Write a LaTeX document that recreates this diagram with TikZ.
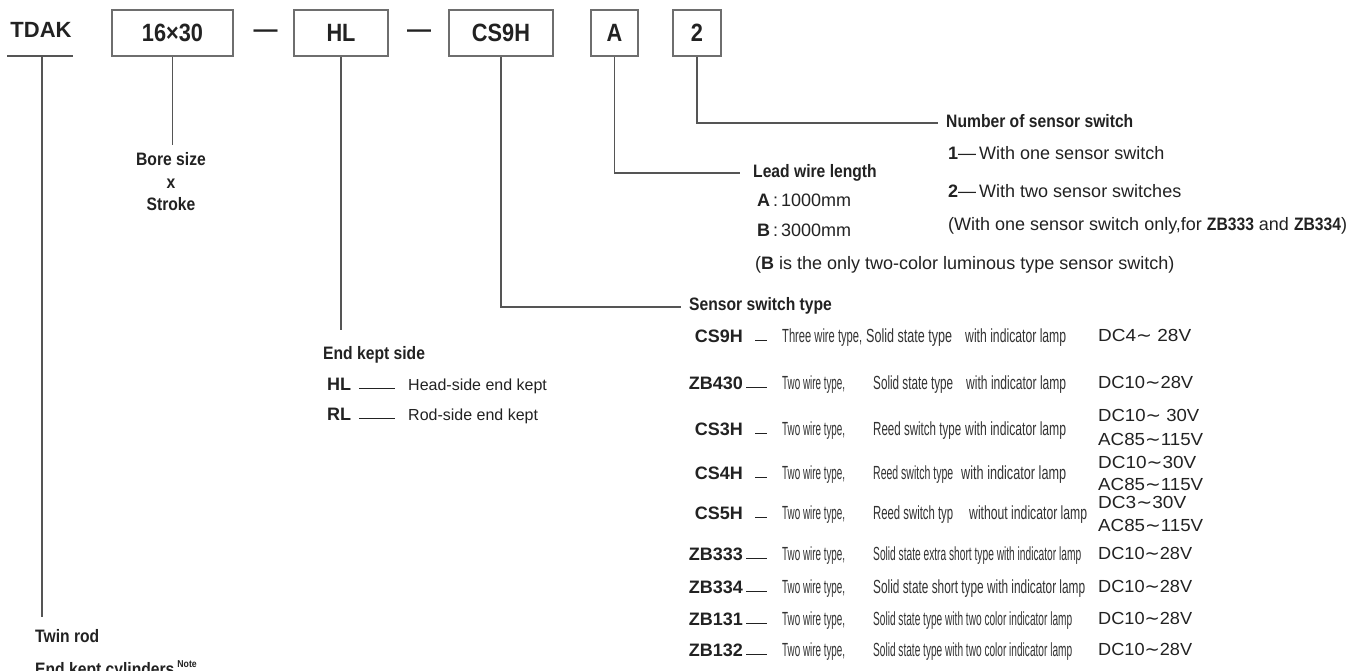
\documentclass[tikz,border=0pt]{standalone}
\usepackage{fontspec}
\usepackage{graphicx}
\setmainfont{Liberation Sans}
\newfontfamily\hd{Liberation Sans}[FakeStretch=0.87]
\newfontfamily\dv{DejaVu Sans}
\newcommand\fs[1]{\fontsize{#1}{#1}\selectfont}
\newcommand\fitw[2]{\resizebox{#1pt}{\height}{#2}}
\newcommand\wtil{{\dv ∼}}
\definecolor{txtcol}{HTML}{222222}
\definecolor{linecol}{HTML}{555555}
\definecolor{boxcol}{HTML}{6E6E6E}
\begin{document}
\begin{tikzpicture}[x=1pt,y=-1pt,
  txt/.style={text=txtcol, inner sep=0pt, anchor=mid west},
  hdr/.style={txt, font=\hd\bfseries\fs{18}},
  reg/.style={txt, font=\fs{18}},
  desc/.style={txt, text=black!80, font=\fs{19}},
  volt/.style={txt, font=\fs{17.5}},
  sname/.style={txt, anchor=mid east, font=\bfseries\fs{18}},
  code/.style={draw=boxcol, line width=1.5pt, inner sep=0pt, text=txtcol,
     font=\hd\bfseries\fs{25}, minimum height=46pt},
  conn/.style={draw=linecol, line width=1.4pt},
  dashln/.style={draw=txtcol, line width=1pt}]
\fill[white] (0,0) rectangle (1360,670);
\useasboundingbox (0,0) rectangle (1360,670);
\clip (0,0) rectangle (1360,670);

% ---- top code row
\node[txt, anchor=mid, font=\bfseries\fs{22}] (tdak) at (41,35) {TDAK};
\coordinate (ulL) at (7,56);
\coordinate (ulR) at (73,56);
\draw[conn] (ulL) -- (ulR);
\node[code, minimum width=121pt] (b1) at (172.5,33) {16×30};
\node[txt, anchor=mid, font=\bfseries\fs{24}] (dash1) at (265.5,35) {—};
\node[code, minimum width=94pt] (b2) at (341,33) {HL};
\node[txt, anchor=mid, font=\bfseries\fs{24}] (dash2) at (419,35) {—};
\node[code, minimum width=104pt] (b3) at (501,33) {CS9H};
\node[code, minimum width=47pt] (b4) at (614.5,33) {A};
\node[code, minimum width=48pt] (b5) at (697,33) {2};

% ---- TDAK branch
\coordinate (tdB) at (42,56);
\coordinate (tdE) at (42,617);
\draw[conn] (tdB) -- (tdE);
\node[hdr] (twin) at (35,640) {Twin rod};
\node[hdr, anchor=base west] (ekc) at (35,675) {End kept cylinders\,\raisebox{8pt}{\fs{10}Note}};

% ---- bore size
\coordinate (boreEnd) at (172.5,145);
\draw[conn] (b1.south) -- (boreEnd);
\node[hdr, anchor=mid] (bore1) at (171,163) {Bore size};
\node[hdr, anchor=mid] (bore2) at (171,186) {x};
\node[hdr, anchor=mid] (bore3) at (171,208) {Stroke};

% ---- end kept side
\coordinate (eksEnd) at (341,330);
\draw[conn] (b2.south) -- (eksEnd);
\node[hdr] (eks) at (323,357) {End kept side};
\node[txt, font=\bfseries\fs{18}] (hl) at (327,388) {HL};
\node[txt, font=\fs{16}] (hls) at (408,388) {Head-side end kept};
\draw[dashln, line width=0.8pt] ([xshift=8pt]hl.mid east) -- ([xshift=-13pt]hls.mid west);
\node[txt, font=\bfseries\fs{18}] (rl) at (327,418) {RL};
\node[txt, font=\fs{16}] (rls) at (408,418) {Rod-side end kept};
\draw[dashln, line width=0.8pt] ([xshift=8pt]rl.mid east) -- ([xshift=-13pt]rls.mid west);

% ---- number of sensor switch
\coordinate (nssEnd) at (938,123);
\draw[conn] (b5.south) |- (nssEnd);
\node[hdr] (nss) at (946,125) {Number of sensor switch};
\node[reg] (n1) at (948,157) {\textbf{1}—\,With one sensor switch};
\node[reg] (n2) at (948,195) {\textbf{2}—\,With two sensor switches};
\node[reg] (n3) at (948,228) {(With one sensor switch only,for {\hd\bfseries ZB333} and {\hd\bfseries ZB334})};

% ---- lead wire length
\coordinate (lwEnd) at (740,173);
\draw[conn] (b4.south) |- (lwEnd);
\node[hdr] (lw) at (753,175) {Lead wire length};
\node[reg] (la) at (757,204) {\textbf{A}\,:\,1000mm};
\node[reg] (lb) at (757,234) {\textbf{B}\,:\,3000mm};
\node[reg] (lnote) at (755,267) {(\textbf{B} is the only two-color luminous type sensor switch)};

% ---- sensor switch type
\coordinate (shEnd) at (681,307);
\draw[conn] (b3.south) |- (shEnd);
\node[hdr] (sh) at (689,308) {Sensor switch type};

% row 1
\node[sname] (s1) at (743,340) {CS9H};
\node[desc] (s1a) at (782,340) {\fitw{80}{Three wire type,}};
\node[desc] (s1b) at (866,340) {\fitw{86}{Solid state type}};
\node[desc] (s1c) at (965,340) {\fitw{101}{with indicator lamp}};
\node[volt] (s1v) at (1098,339) {\fitw{93}{DC4\wtil\ 28V}};
\draw[dashln] ([xshift=12pt]s1.mid east) -- ([xshift=-15pt]s1a.mid west);
% row 2
\node[sname] (s2) at (743,387) {ZB430};
\node[desc] (s2a) at (782,387) {\fitw{63}{Two wire type,}};
\node[desc] (s2b) at (873,387) {\fitw{80}{Solid state type}};
\node[desc] (s2c) at (966,387) {\fitw{100}{with indicator lamp}};
\node[volt] (s2v) at (1098,386) {\fitw{95}{DC10\wtil 28V}};
\draw[dashln] ([xshift=3pt]s2.mid east) -- ([xshift=-15pt]s2a.mid west);
% row 3
\node[sname] (s3) at (743,433) {CS3H};
\node[desc] (s3a) at (782,433) {\fitw{63}{Two wire type,}};
\node[desc] (s3b) at (873,433) {\fitw{88}{Reed switch type}};
\node[desc] (s3c) at (965,433) {\fitw{101}{with indicator lamp}};
\node[volt] (s3v) at (1098,419) {\fitw{101}{DC10\wtil\ 30V}};
\node[volt] (s3w) at (1098,443) {\fitw{105}{AC85\wtil 115V}};
\draw[dashln] ([xshift=12pt]s3.mid east) -- ([xshift=-15pt]s3a.mid west);
% row 4
\node[sname] (s4) at (743,477) {CS4H};
\node[desc] (s4a) at (782,477) {\fitw{63}{Two wire type,}};
\node[desc] (s4b) at (873,477) {\fitw{80}{Reed switch type}};
\node[desc] (s4c) at (961,477) {\fitw{105}{with indicator lamp}};
\node[volt] (s4v) at (1098,466) {\fitw{98}{DC10\wtil 30V}};
\node[volt] (s4w) at (1098,488) {\fitw{105}{AC85\wtil 115V}};
\draw[dashln] ([xshift=12pt]s4.mid east) -- ([xshift=-15pt]s4a.mid west);
% row 5
\node[sname] (s5) at (743,517) {CS5H};
\node[desc] (s5a) at (782,517) {\fitw{63}{Two wire type,}};
\node[desc] (s5b) at (873,517) {\fitw{80}{Reed switch typ}};
\node[desc] (s5c) at (969,517) {\fitw{118}{without indicator lamp}};
\node[volt] (s5v) at (1098,506) {\fitw{88}{DC3\wtil 30V}};
\node[volt] (s5w) at (1098,529) {\fitw{105}{AC85\wtil 115V}};
\draw[dashln] ([xshift=12pt]s5.mid east) -- ([xshift=-15pt]s5a.mid west);
% row 6
\node[sname] (s6) at (743,558) {ZB333};
\node[desc] (s6a) at (782,558) {\fitw{63}{Two wire type,}};
\node[desc] (s6b) at (873,558) {\fitw{208}{Solid state extra short type with indicator lamp}};
\node[volt] (s6v) at (1098,557) {\fitw{94}{DC10\wtil 28V}};
\draw[dashln] ([xshift=3pt]s6.mid east) -- ([xshift=-15pt]s6a.mid west);
% row 7
\node[sname] (s7) at (743,591) {ZB334};
\node[desc] (s7a) at (782,591) {\fitw{63}{Two wire type,}};
\node[desc] (s7b) at (873,591) {\fitw{212}{Solid state short type with indicator lamp}};
\node[volt] (s7v) at (1098,590) {\fitw{94}{DC10\wtil 28V}};
\draw[dashln] ([xshift=3pt]s7.mid east) -- ([xshift=-15pt]s7a.mid west);
% row 8
\node[sname] (s8) at (743,623) {ZB131};
\node[desc] (s8a) at (782,623) {\fitw{63}{Two wire type,}};
\node[desc] (s8b) at (873,623) {\fitw{199}{Solid state type with two color indicator lamp}};
\node[volt] (s8v) at (1098,622) {\fitw{94}{DC10\wtil 28V}};
\draw[dashln] ([xshift=3pt]s8.mid east) -- ([xshift=-15pt]s8a.mid west);
% row 9
\node[sname] (s9) at (743,654) {ZB132};
\node[desc] (s9a) at (782,654) {\fitw{63}{Two wire type,}};
\node[desc] (s9b) at (873,654) {\fitw{199}{Solid state type with two color indicator lamp}};
\node[volt] (s9v) at (1098,653) {\fitw{94}{DC10\wtil 28V}};
\draw[dashln] ([xshift=3pt]s9.mid east) -- ([xshift=-15pt]s9a.mid west);
\end{tikzpicture}
\end{document}
